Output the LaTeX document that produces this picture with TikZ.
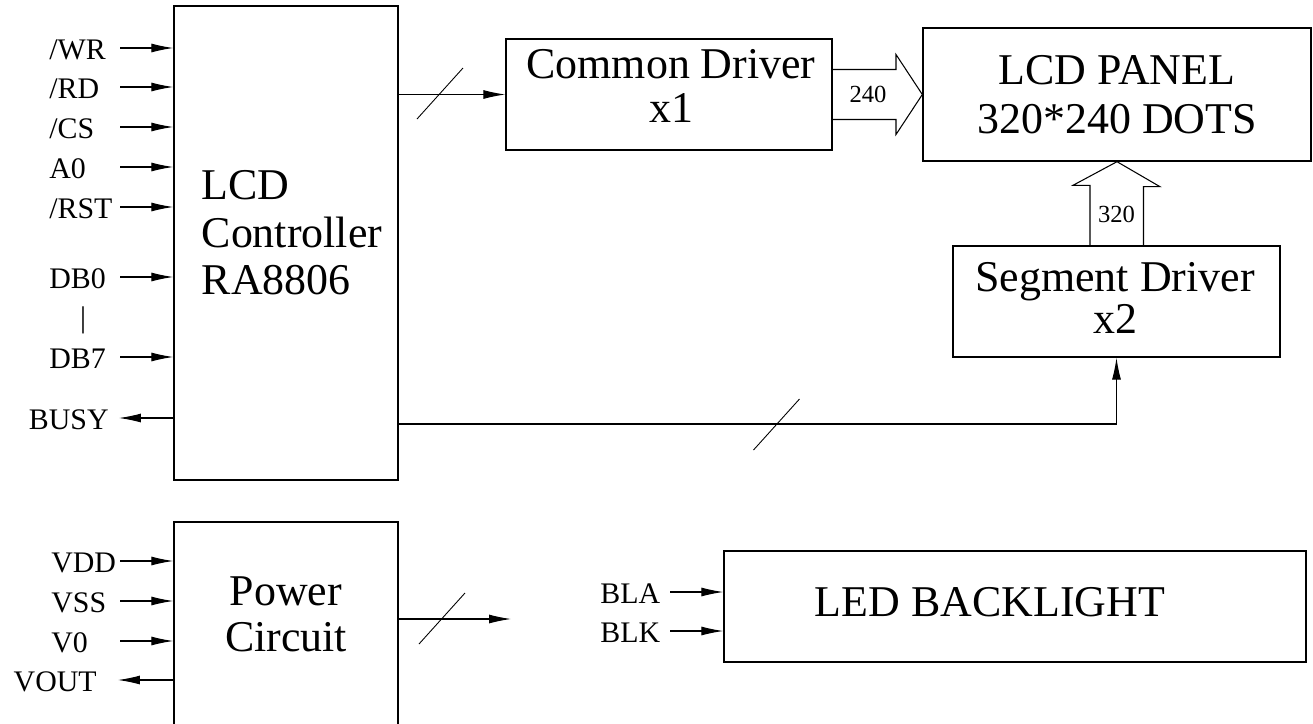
\documentclass[tikz,border=0pt]{standalone}
\usepackage{fontspec}
\setmainfont{Liberation Serif}
\usetikzlibrary{arrows.meta}
\tikzset{
  sig/.style={-{Latex[length=0.44cm,width=0.18cm]}, line width=0.6pt},
  blk/.style={draw, line width=0.8pt, inner sep=0pt},
  big/.style={font=\fontsize{25}{27}\selectfont, align=center, inner sep=0pt},
  pin/.style={font=\fontsize{17}{19}\selectfont, inner sep=0pt},
  num/.style={font=\fontsize{14}{16}\selectfont, inner sep=0pt}
}

\begin{document}
\begin{tikzpicture}[x=0.02cm, y=-0.02cm]
  \useasboundingbox (0,0) rectangle (1313,724);

  \node[blk, minimum width=4.48cm, minimum height=9.48cm] (ctrl) at (286,243) {};
  \node[big, align=left] (ctrltxt) at (292,233) {LCD\\Controller\\RA8806};
  \foreach \y/\t/\n in {48/{/WR}/wr, 87/{/RD}/rd, 127/{/CS}/cs, 167/A0/azero,
                        207/{/RST}/rst, 277/DB0/dbzero, 357/DB7/dbseven} {
    \node[pin, anchor=base west] (\n) at (49,\y+11) {\t};
    \coordinate (\n-s) at (120,\y);
    \draw[sig] (\n-s) -- (\n-s -| ctrl.west);
  }
  \node[pin] (dbbar) at (83,320) {|};
  \node[pin, anchor=base east] (busy) at (109,429) {BUSY};
  \coordinate (busy-e) at (119,418);
  \draw[sig] (busy-e -| ctrl.west) -- (busy-e);

  \node[blk, minimum width=6.52cm, minimum height=2.22cm] (cdrv) at (669,94.5) {};
  \node[big, font=\fontsize{25}{25}\selectfont] (cdtxt) at (671,86) {Common Driver\\x1};
  \draw[sig] (cdrv.west -| ctrl.east) -- (cdrv.west);
  \draw[line width=0.5pt] (440,93.5) +(-23,25.5) -- +(23,-25.5);

  \node[blk, big, font=\fontsize{25}{28}\selectfont, minimum width=7.76cm, minimum height=2.66cm] (panel) at (1117,94.5) {LCD PANEL\\320*240 DOTS};
  \draw[line width=0.6pt] (cdrv.east) ++(0,-25) -- (896,69.5) -- (896,54.5) -- (panel.west)
    -- (896,134.5) -- (896,119.5) -- ++(-64,0);
  \node[num] (nc) at (868,94) {240};

  \node[blk, minimum width=6.54cm, minimum height=2.22cm] (sdrv) at (1116.5,301.5) {};
  \node[big, font=\fontsize{25}{24}\selectfont] (sdtxt) at (1115,298) {Segment Driver\\x2};
  \draw[line width=0.6pt] (sdrv.north) ++(-26.5,0) -- ++(0,-60) -- ++(-17,0) -- (panel.south)
    -- ++(43,25) -- ++(-16.5,0) -- ++(0,60);
  \node[num] (ns) at (1116.5,214) {320};

  \draw[sig] (ctrl.east |- 0,424) -| (sdrv.south);
  \draw[line width=0.5pt] (776.5,424.5) +(-23,25.5) -- +(23,-25.5);

  \node[blk, minimum width=4.48cm, minimum height=4.08cm] (pwr) at (286,624) {};
  \node[big, font=\fontsize{25}{26}\selectfont] (pwrtxt) at (286,614) {Power\\Circuit};
  \foreach \y/\t/\n in {561/VDD/vdd, 601/VSS/vss, 641/V0/vzero} {
    \node[pin, anchor=base west] (\n) at (51,\y+11) {\t};
    \coordinate (\n-s) at (120,\y);
    \draw[sig] (\n-s) -- (\n-s -| pwr.west);
  }
  \node[pin, anchor=base east] (vout) at (97,691) {VOUT};
  \coordinate (vout-e) at (118,680);
  \draw[sig] (vout-e -| pwr.west) -- (vout-e);
  \coordinate (pwr-o) at (511,619);
  \draw[sig] (pwr-o -| pwr.east) -- (pwr-o);
  \draw[line width=0.5pt] (442,618.5) +(-23,25.5) -- +(23,-25.5);

  \node[blk, minimum width=11.64cm, minimum height=2.22cm] (led) at (1015,606.5) {};
  \node[big] (ledtxt) at (990,602) {LED BACKLIGHT};
  \foreach \y/\t/\n in {592/BLA/bla, 631/BLK/blk} {
    \node[pin, anchor=base west] (\n) at (600,\y+11) {\t};
    \coordinate (\n-s) at (670,\y);
    \draw[sig] (\n-s) -- (\n-s -| led.west);
  }
\end{tikzpicture}
\end{document}
